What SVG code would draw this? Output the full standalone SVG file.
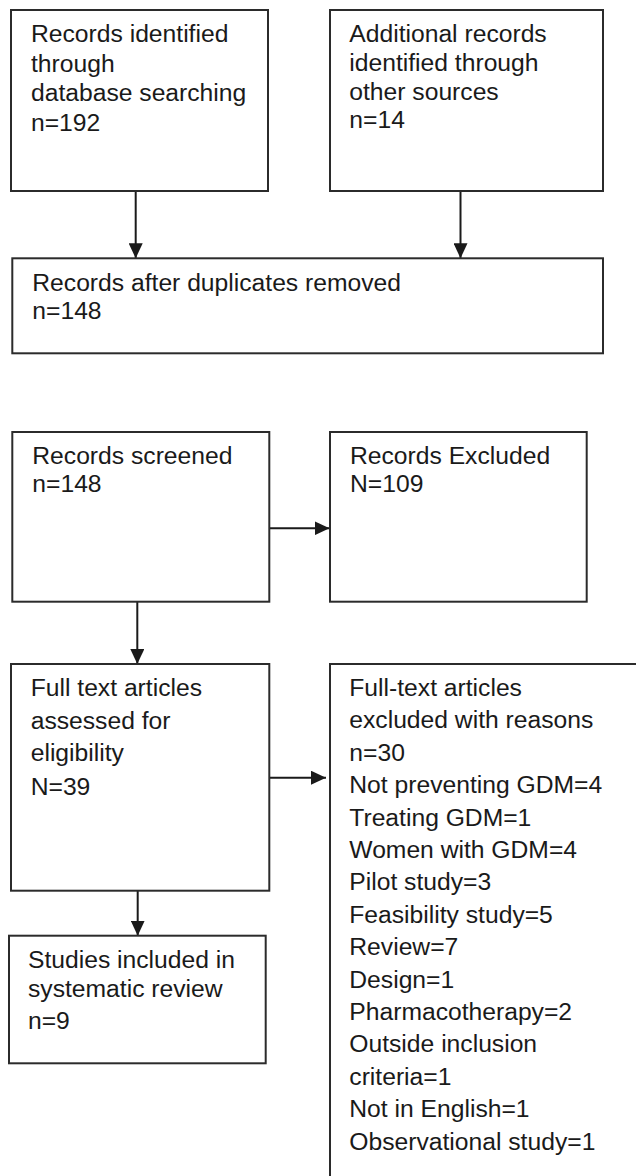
<svg xmlns="http://www.w3.org/2000/svg" width="636" height="1176" viewBox="0 0 636 1176">
<style>
.box{fill:#ffffff;stroke:#2b2b2b;stroke-width:2}
.con{stroke:#1a1a1a;stroke-width:2;fill:none}
.t{font-family:"Liberation Sans",Arial,sans-serif;font-size:23.5px;fill:#1a1a1a}
</style>
<defs>
<marker id="ah" markerUnits="userSpaceOnUse" markerWidth="15" markerHeight="14" refX="15" refY="7" orient="auto">
<path d="M0,0 L15,7 L0,14 z" fill="#1a1a1a"/>
</marker>
</defs>
<rect width="636" height="1176" fill="#ffffff"/>
<g id="connectors">
<line class="con" x1="135.7" y1="191" x2="135.7" y2="258.3" marker-end="url(#ah)"/>
<line class="con" x1="460.5" y1="191" x2="460.5" y2="258.3" marker-end="url(#ah)"/>
<line class="con" x1="269" y1="528.3" x2="329.5" y2="528.3" marker-end="url(#ah)"/>
<line class="con" x1="137.3" y1="601.7" x2="137.3" y2="664" marker-end="url(#ah)"/>
<line class="con" x1="265.7" y1="777.7" x2="326" y2="777.7" marker-end="url(#ah)"/>
<line class="con" x1="137.7" y1="890.7" x2="137.7" y2="935.7" marker-end="url(#ah)"/>
</g>
<g id="n1">
<rect class="box" x="11" y="10" width="257" height="181"/>
<text class="t" transform="translate(31,0) scale(1.05,1)"><tspan x="0" y="42.3">Records identified</tspan><tspan x="0" y="72">through</tspan><tspan x="0" y="101.5">database searching</tspan><tspan x="0" y="131">n=192</tspan></text>
</g>
<g id="n2">
<rect class="box" x="330" y="10" width="273" height="181"/>
<text class="t" transform="translate(349.3,0) scale(1.05,1)"><tspan x="0" y="42.3">Additional records</tspan><tspan x="0" y="71">identified through</tspan><tspan x="0" y="100">other sources</tspan><tspan x="0" y="128">n=14</tspan></text>
</g>
<g id="n3">
<rect class="box" x="12.3" y="258.3" width="590.7" height="95"/>
<text class="t" transform="translate(32.3,0) scale(1.05,1)"><tspan x="0" y="291">Records after duplicates removed</tspan><tspan x="0" y="319.5">n=148</tspan></text>
</g>
<g id="n4">
<rect class="box" x="12.3" y="432" width="257" height="169.7"/>
<text class="t" transform="translate(32.3,0) scale(1.05,1)"><tspan x="0" y="464">Records screened</tspan><tspan x="0" y="492.3">n=148</tspan></text>
</g>
<g id="n5">
<rect class="box" x="330" y="432" width="256.7" height="169.7"/>
<text class="t" transform="translate(350,0) scale(1.05,1)"><tspan x="0" y="464">Records Excluded</tspan><tspan x="0" y="492.3">N=109</tspan></text>
</g>
<g id="n6">
<rect class="box" x="11" y="664" width="258.3" height="226.7"/>
<text class="t" transform="translate(30.7,0) scale(1.05,1)"><tspan x="0" y="696">Full text articles</tspan><tspan x="0" y="729">assessed for</tspan><tspan x="0" y="761">eligibility</tspan><tspan x="0" y="795">N=39</tspan></text>
</g>
<g id="n7">
<rect class="box" x="330" y="664" width="330" height="530"/>
<text class="t" transform="translate(349.3,0) scale(1.05,1)"><tspan x="0" y="696">Full-text articles</tspan><tspan x="0" y="728.4">excluded with reasons</tspan><tspan x="0" y="760.8">n=30</tspan><tspan x="0" y="793.2">Not preventing GDM=4</tspan><tspan x="0" y="825.6">Treating GDM=1</tspan><tspan x="0" y="858">Women with GDM=4</tspan><tspan x="0" y="890.4">Pilot study=3</tspan><tspan x="0" y="922.8">Feasibility study=5</tspan><tspan x="0" y="955.2">Review=7</tspan><tspan x="0" y="987.6">Design=1</tspan><tspan x="0" y="1020">Pharmacotherapy=2</tspan><tspan x="0" y="1052.4">Outside inclusion</tspan><tspan x="0" y="1084.8">criteria=1</tspan><tspan x="0" y="1117.2">Not in English=1</tspan><tspan x="0" y="1149.6">Observational study=1</tspan></text>
</g>
<g id="n8">
<rect class="box" x="9" y="935.7" width="256.7" height="127.6"/>
<text class="t" transform="translate(28,0) scale(1.05,1)"><tspan x="0" y="968.3">Studies included in</tspan><tspan x="0" y="996.7">systematic review</tspan><tspan x="0" y="1029.3">n=9</tspan></text>
</g>
</svg>
